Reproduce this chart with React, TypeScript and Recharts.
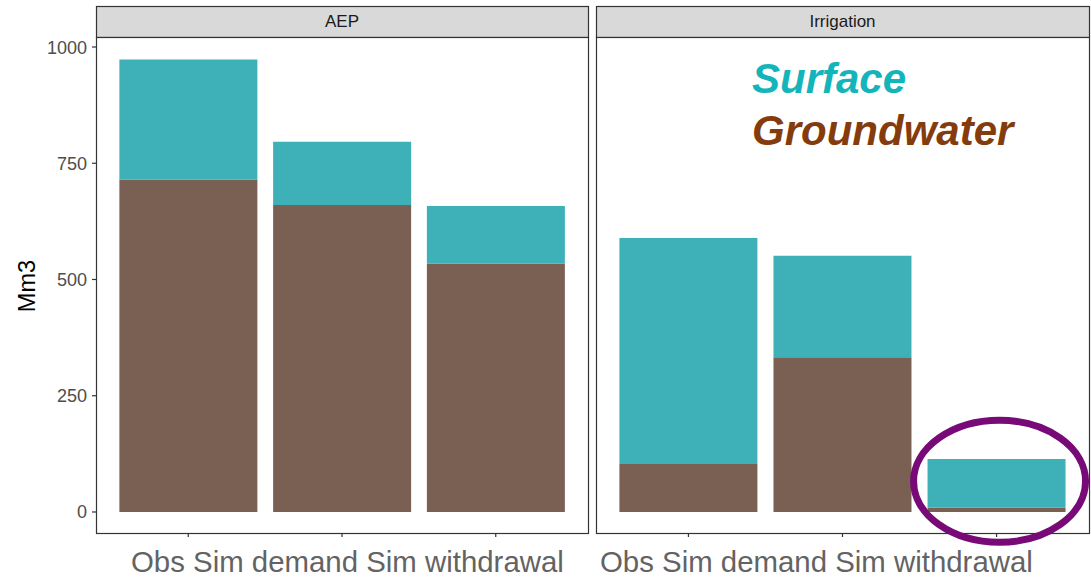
import { Bar, BarChart, ReferenceDot, XAxis, YAxis } from 'recharts';

const categories = ['Obs', 'Sim demand', 'Sim withdrawal'];
const aepGroundwater = [715, 660, 534];
const aepSurface = [258, 136, 124];
const irrGroundwater = [103, 333, 9];
const irrSurface = [486, 218, 105];
const yTicks = [0, 250, 500, 750, 1000];
const facetLabels = ['AEP', 'Irrigation'];
const axisTitle = 'Mm3';
const legendLabels = ['Surface', 'Groundwater'];

const colors = {
  surface: '#3db0b8',
  groundwater: '#7a5f53',
  surfaceText: '#14b4bb',
  groundText: '#843c0c',
  border: '#333333',
  strip: '#d9d9d9',
  ring: '#780a78',
};

const FONT = '"Liberation Sans", Arial, sans-serif';
const Y_DOMAIN: [number, number] = [-45.2, 1021.5];

function toRows(gw: number[], sw: number[]) {
  return categories.map((c, i) => ({ cat: c, groundwater: gw[i], surface: sw[i] }));
}

const aepData = toRows(aepGroundwater, aepSurface);
const irrData = toRows(irrGroundwater, irrSurface);

// panel geometry (plot areas)
const panels = [
  { left: 96, right: 588 },
  { left: 596, right: 1089 },
];
const PLOT_TOP = 37;
const PLOT_BOTTOM = 533;

function Ring(p: any) {
  return (
    <ellipse cx={p.cx + 3} cy={p.cy} rx={86} ry={61} fill="none" stroke={colors.ring} strokeWidth={7} />
  );
}

// labels are drawn as one string below each panel, so ticks keep only their lines
const NoLabel = () => <g />;

export default function App() {
  const bandPad = (w: number) => (w - (w / 3.2) * 3) / 2;
  return (
    <div style={{ position: 'absolute', left: 0, top: 0, width: 1091, height: 579, background: '#fff', fontFamily: FONT }}>
      <svg width={1091} height={579} style={{ position: 'absolute', left: 0, top: 0 }}>
        {panels.map((p, i) => (
          <g key={i}>
            <rect x={p.left + 0.5} y={6.5} width={p.right - p.left} height={PLOT_TOP - 6} fill={colors.strip} stroke={colors.border} strokeWidth={1.2} />
            <rect x={p.left + 0.5} y={PLOT_TOP + 0.5} width={p.right - p.left} height={PLOT_BOTTOM - PLOT_TOP} fill="#fff" stroke={colors.border} strokeWidth={1.2} />
            <text x={(p.left + p.right) / 2} y={27} textAnchor="middle" fontSize={17} fill="#1a1a1a" fontFamily={FONT}>
              {facetLabels[i]}
            </text>
          </g>
        ))}
        <text x={35} y={286} transform="rotate(-90 35 286)" textAnchor="middle" fontSize={23.5} fill="#000" fontFamily={FONT}>
          {axisTitle}
        </text>
        <text x={131} y={572} fontSize={29.4} fill="#636363" fontFamily={FONT}>
          {categories.join(' ')}
        </text>
        <text x={600} y={572} fontSize={29.4} fill="#636363" fontFamily={FONT}>
          {categories.join(' ')}
        </text>
        <text x={752} y={93} fontSize={42} fontWeight="bold" fontStyle="italic" fill={colors.surfaceText} fontFamily={FONT}>
          {legendLabels[0]}
        </text>
        <text x={752} y={145} fontSize={42} fontWeight="bold" fontStyle="italic" fill={colors.groundText} fontFamily={FONT}>
          {legendLabels[1]}
        </text>
      </svg>

      <div style={{ position: 'absolute', left: 0, top: PLOT_TOP }}>
        <BarChart width={590} height={510} data={aepData} margin={{ top: 0, right: 2, bottom: 4, left: 0 }} barSize={138}>
          <XAxis
            dataKey="cat"
            height={10}
            axisLine={false}
            tick={NoLabel}
            tickSize={4}
            tickLine={{ stroke: colors.border, strokeWidth: 1.2 }}
            padding={{ left: bandPad(492), right: bandPad(492) }}
          />
          <YAxis
            width={96}
            domain={Y_DOMAIN}
            ticks={yTicks}
            allowDataOverflow
            axisLine={false}
            tickSize={4}
            tickMargin={5}
            tickLine={{ stroke: colors.border, strokeWidth: 1.2 }}
            tick={{ fontSize: 18, fill: '#4d4d4d', fontFamily: FONT }}
          />
          <Bar dataKey="groundwater" stackId="a" fill={colors.groundwater} isAnimationActive={false} />
          <Bar dataKey="surface" stackId="a" fill={colors.surface} isAnimationActive={false} />
        </BarChart>
      </div>

      <div style={{ position: 'absolute', left: 596, top: PLOT_TOP }}>
        <BarChart width={500} height={510} data={irrData} margin={{ top: 0, right: 7, bottom: 4, left: 0 }} barSize={138}>
          <XAxis
            dataKey="cat"
            height={10}
            axisLine={false}
            tick={NoLabel}
            tickSize={4}
            tickLine={{ stroke: colors.border, strokeWidth: 1.2 }}
            padding={{ left: bandPad(493), right: bandPad(493) }}
          />
          <YAxis hide width={0} domain={Y_DOMAIN} ticks={yTicks} allowDataOverflow />
          <Bar dataKey="groundwater" stackId="a" fill={colors.groundwater} isAnimationActive={false} />
          <Bar dataKey="surface" stackId="a" fill={colors.surface} isAnimationActive={false} />
          <ReferenceDot x="Sim withdrawal" y={66} r={1} ifOverflow="visible" shape={Ring} />
        </BarChart>
      </div>
    </div>
  );
}
